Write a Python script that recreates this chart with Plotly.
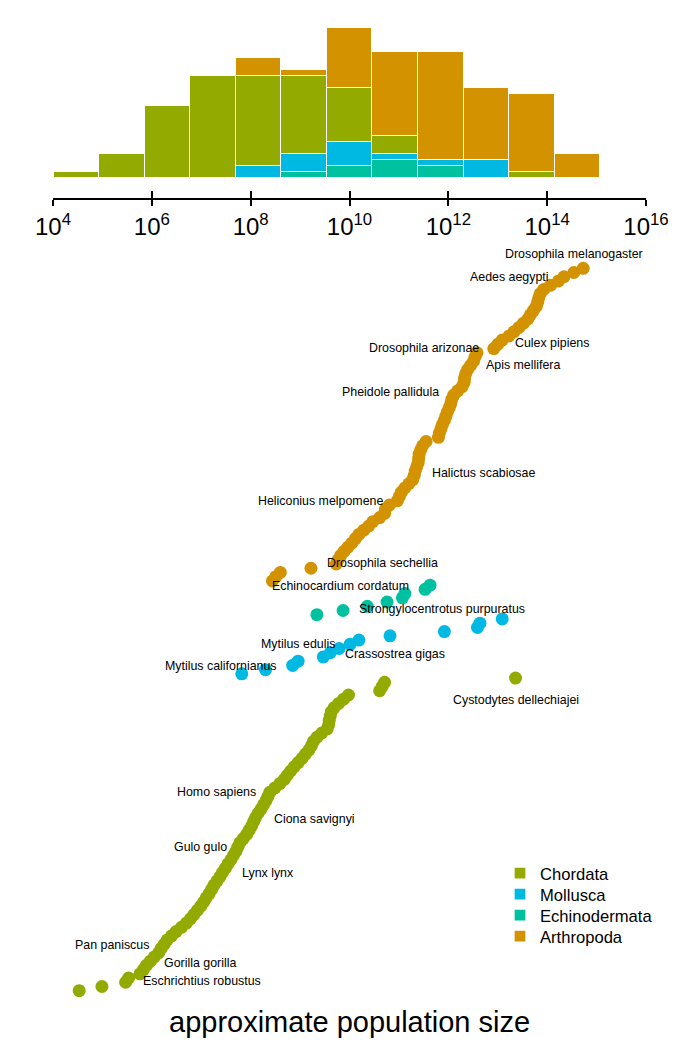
import plotly.graph_objects as go

# ---------------- data (log10 of approximate population size) ----------------
phyla = ["Chordata", "Mollusca", "Echinodermata", "Arthropoda"]
phylum_colors = ["#93AA00", "#00B9E3", "#00C19F", "#D39200"]

chordata = [4.53, 4.99, 5.47, 5.53, 5.76, 5.83, 5.89, 5.97, 6.05, 6.14, 6.19, 6.25, 6.31,
            6.40, 6.49, 6.60, 6.70, 6.78, 6.85, 6.92, 6.99, 7.05, 7.10, 7.16, 7.21, 7.26,
            7.32, 7.38, 7.43, 7.49, 7.54, 7.60, 7.65, 7.70, 7.74, 7.78, 7.85, 7.92, 7.97,
            8.02, 8.06, 8.10, 8.15, 8.21, 8.26, 8.31, 8.35, 8.39, 8.49, 8.59, 8.68, 8.74,
            8.81, 8.88, 8.96, 9.04, 9.11, 9.18, 9.23, 9.27, 9.34, 9.44, 9.55, 9.58, 9.59,
            9.61, 9.63, 9.69, 9.78, 9.88, 9.98, 10.61, 10.66, 10.71, 13.36]
mollusca = [7.82, 8.30, 8.85, 8.96, 9.47, 9.61, 9.79, 10.01, 10.19, 10.82, 11.92, 12.59,
            12.64, 13.09]
echinodermata = [9.34, 9.87, 10.36, 10.76, 11.07, 11.12, 11.53, 11.63]
arthropoda = [8.44, 8.51, 8.60, 9.22, 9.73, 9.77, 9.82, 9.89, 9.97, 10.05, 10.12, 10.19,
              10.29, 10.39, 10.47, 10.61, 10.71, 10.73, 10.81, 10.97, 11.01, 11.05, 11.12,
              11.20, 11.28, 11.31, 11.33, 11.36, 11.39, 11.40, 11.41, 11.44, 11.48, 11.55,
              11.80, 11.82, 11.85, 11.88, 11.92, 11.95, 11.98, 12.02, 12.05, 12.07, 12.11,
              12.19, 12.28, 12.32, 12.33, 12.35, 12.39, 12.45, 12.51, 12.54, 12.58, 12.92,
              13.00, 13.09, 13.23, 13.33, 13.43, 13.52, 13.61, 13.66, 13.72, 13.78, 13.81,
              13.83, 13.86, 13.93, 14.07, 14.23, 14.34, 14.54, 14.73]

# histogram (counts per bin, bins in log10 units)
bin_centers = [4.48, 5.40, 6.32, 7.24, 8.16, 9.08, 10.00, 10.92, 11.85, 12.77, 13.69, 14.61]
bin_width = 0.92
hist_chordata = [1, 4, 12, 17, 15, 13, 9, 3, 0, 0, 1, 0]
hist_mollusca = [0, 0, 0, 0, 2, 3, 4, 1, 1, 3, 0, 0]
hist_echinodermata = [0, 0, 0, 0, 0, 1, 2, 3, 2, 0, 0, 0]
hist_arthropoda = [0, 0, 0, 0, 3, 1, 10, 14, 18, 12, 13, 4]

tick_exponents = [4, 6, 8, 10, 12, 14, 16]

# labelled species: (name, phylum, index within phylum, xanchor, xshift px, yshift px)
labels = [
    ("Drosophila melanogaster", "Arthropoda", 74, "center", -9, 14),
    ("Aedes aegypti", "Arthropoda", 72, "right", -14, 0),
    ("Culex pipiens", "Arthropoda", 57, "left", 12, -3),
    ("Drosophila arizonae", "Arthropoda", 54, "right", 3, 5),
    ("Apis mellifera", "Arthropoda", 51, "left", 14, 0),
    ("Pheidole pallidula", "Arthropoda", 44, "right", -14, 3),
    ("Halictus scabiosae", "Arthropoda", 26, "left", 16, -2),
    ("Heliconius melpomene", "Arthropoda", 19, "right", -13, 0),
    ("Drosophila sechellia", "Arthropoda", 3, "left", 15, 5),
    ("Echinocardium cordatum", "Echinodermata", 7, "right", -20, -1),
    ("Strongylocentrotus purpuratus", "Echinodermata", 1, "left", 15, 1),
    ("Mytilus edulis", "Mollusca", 7, "right", -14, 0),
    ("Crassostrea gigas", "Mollusca", 5, "left", 14, -1),
    ("Mytilus californianus", "Mollusca", 2, "right", -15, -1),
    ("Cystodytes dellechiajei", "Chordata", 74, "center", 0, -22),
    ("Homo sapiens", "Chordata", 47, "right", -13, 0),
    ("Ciona savignyi", "Chordata", 41, "left", 17, -2),
    ("Gulo gulo", "Chordata", 34, "right", -10, 0),
    ("Lynx lynx", "Chordata", 28, "left", 18, -1),
    ("Pan paniscus", "Chordata", 11, "right", -14, -1),
    ("Gorilla gorilla", "Chordata", 6, "left", 17, 2),
    ("Eschrichtius robustus", "Chordata", 3, "left", 13, -3),
]

# ---------------- figure ----------------
FONT = "Liberation Sans, Arial, Helvetica, sans-serif"
OFF = 8                      # page body margin
W, H = 700 - OFF, 1050 - OFF


def fx(px):                  # page x pixel -> paper fraction
    return (px - OFF) / W


def fy(px):                  # page y pixel -> paper fraction
    return 1 - (px - OFF) / H


dots = {"Chordata": chordata, "Mollusca": mollusca,
        "Echinodermata": echinodermata, "Arthropoda": arthropoda}
hists = {"Chordata": hist_chordata, "Mollusca": hist_mollusca,
         "Echinodermata": hist_echinodermata, "Arthropoda": hist_arthropoda}
color = dict(zip(phyla, phylum_colors))
legend_ids = ["legend", "legend2", "legend3", "legend4"]

fig = go.Figure()

stack_order = ["Echinodermata", "Mollusca", "Chordata", "Arthropoda"]
for p in stack_order:
    fig.add_trace(go.Bar(
        x=bin_centers, y=[v if v else None for v in hists[p]], width=bin_width,
        name=p, legend=legend_ids[phyla.index(p)],
        marker=dict(color=color[p], line=dict(color="white", width=1.3)),
        xaxis="x", yaxis="y", hoverinfo="skip"))

# overlay axis for upward tick marks
fig.add_trace(go.Scatter(x=[], y=[], xaxis="x3", yaxis="y", showlegend=False))

offset = 0
start = {}
for p in phyla:
    vals = dots[p]
    start[p] = offset
    fig.add_trace(go.Scatter(
        x=vals, y=list(range(offset, offset + len(vals))), mode="markers",
        marker=dict(size=13, color=color[p], line=dict(width=0)),
        showlegend=False, xaxis="x2", yaxis="y2", cliponaxis=False, hoverinfo="skip"))
    offset += len(vals)
N = offset

for name, p, idx, xa, dx, dy in labels:
    fig.add_annotation(
        x=dots[p][idx], y=start[p] + idx, xref="x2", yref="y2", text=name,
        showarrow=False, xanchor=xa, yanchor="middle", xshift=dx, yshift=dy,
        borderpad=0, font=dict(family=FONT, size=12.4, color="black"))

fig.add_annotation(
    x=fx(349), y=fy(1022), xref="paper", yref="paper",
    text="approximate population size", showarrow=False,
    xanchor="center", yanchor="middle", font=dict(family=FONT, size=29, color="black"))

xdom = [fx(53), fx(646)]
base = 178.0 - OFF
unit = 6.0
axis_px = 198.0 - OFF
top_px = 20.0 - OFF

legend_rows = [873.3, 894.3, 915.3, 936.3]
legends = {}
for lid, row in zip(legend_ids, legend_rows):
    legends[lid] = dict(x=fx(500), y=fy(row - 17.5), xanchor="left", yanchor="top",
                        font=dict(size=16.6, family=FONT, color="black"),
                        bgcolor="rgba(0,0,0,0)", borderwidth=0)

fig.update_layout(
    width=W, height=H, margin=dict(l=0, r=0, t=0, b=0, autoexpand=False),
    paper_bgcolor="white", plot_bgcolor="white",
    barmode="stack", bargap=0,
    font=dict(family=FONT, color="black"),
    xaxis=dict(domain=xdom, range=[4, 16], anchor="y", showgrid=False, zeroline=False,
               showline=True, linecolor="black", linewidth=2, automargin=False,
               ticks="outside", ticklen=6, tickwidth=2, tickcolor="black",
               tickvals=tick_exponents,
               ticktext=[f"10<sup>{e}</sup>" for e in tick_exponents],
               tickfont=dict(size=24, family=FONT, color="black")),
    xaxis3=dict(overlaying="x", anchor="y", range=[4, 16], showgrid=False, zeroline=False,
                showline=False, ticks="inside", ticklen=7, tickwidth=2, tickcolor="black",
                tickvals=tick_exponents, showticklabels=False, automargin=False),
    yaxis=dict(domain=[fy(198), fy(20)],
               range=[-(axis_px - base) / unit, (base - top_px) / unit],
               visible=False, showgrid=False, zeroline=False),
    xaxis2=dict(domain=xdom, range=[4, 16], anchor="y2", visible=False,
                showgrid=False, zeroline=False),
    yaxis2=dict(domain=[fy(990.7), fy(268.3)], range=[0, N - 1], anchor="x2",
                visible=False, showgrid=False, zeroline=False),
    showlegend=True,
    **legends,
)

fig.write_html("out.html")
